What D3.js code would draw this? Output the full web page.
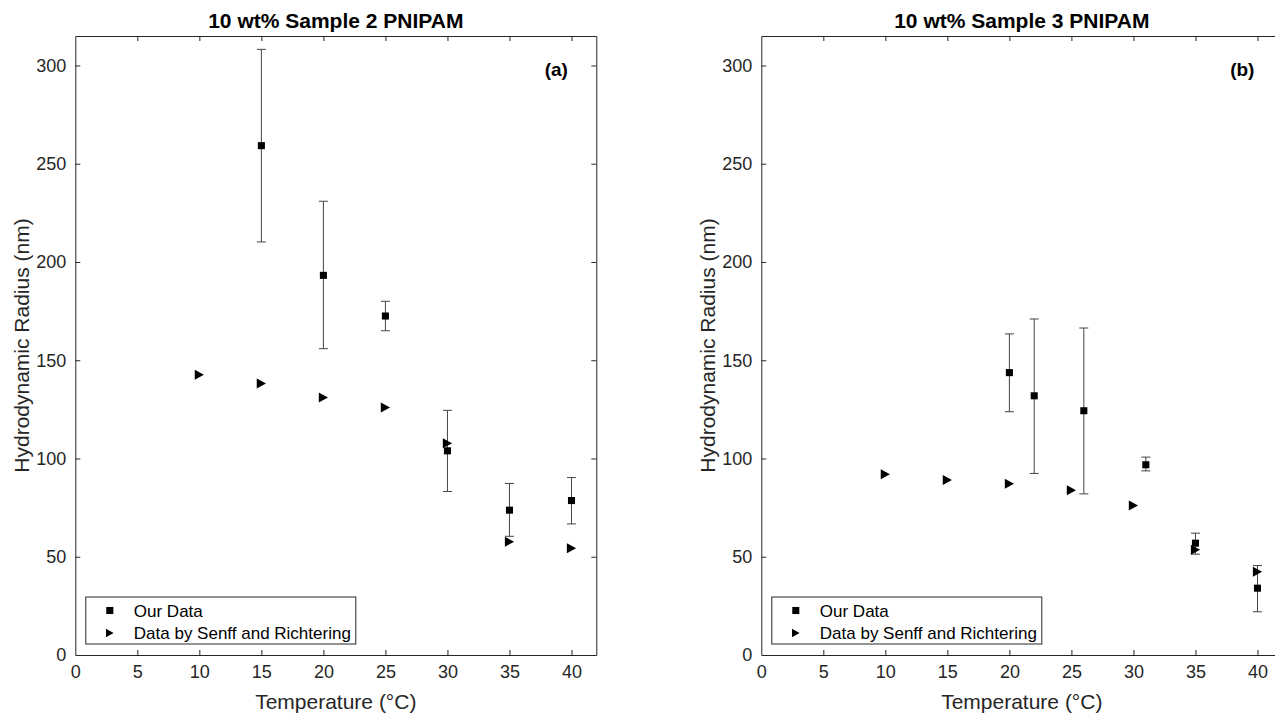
<!DOCTYPE html>
<html>
<head>
<meta charset="utf-8">
<script src="https://cdn.jsdelivr.net/npm/d3@7"></script>
<style>
  html, body { margin: 0; padding: 0; background: #fff; }
  svg { display: block; font-family: "Liberation Sans", Arial, Helvetica, sans-serif; }
</style>
</head>
<body>
<div id="wrapper"></div>
<script>
// DATA

const tempTicks = [0, 5, 10, 15, 20, 25, 30, 35, 40];
const radiusTicks = [0, 50, 100, 150, 200, 250, 300];
const legendLabels = ["Our Data", "Data by Senff and Richtering"];

// reference data, same temperatures in both panels
const senffTemp = [10, 15, 20, 25, 30, 35, 40];
const senffRadiusA = [142.6, 138.2, 131.1, 126, 107.8, 57.6, 54.3];
const senffRadiusB = [92, 89, 87.1, 83.9, 76.1, 53.5, 42.4];

// panel (a) - sample 2
const ourTempA = [15, 20, 25, 30, 35, 40];
const ourRadiusA = [259.2, 193.2, 172.5, 103.9, 73.7, 78.6];
const ourLowA = [210.2, 155.9, 165, 83.2, 60.4, 66.7];
const ourHighA = [308.2, 230.9, 180, 124.5, 87.3, 90.3];

// panel (b) - sample 3
const ourTempB = [20, 22, 26, 31, 35, 40];
const ourRadiusB = [143.7, 131.9, 124.3, 96.8, 56.9, 34];
const ourLowB = [123.8, 92.4, 82, 93.7, 51.3, 22];
const ourHighB = [163.4, 171, 166.4, 100.7, 62, 45.5];

// DIMENSIONS

const dimensions = {
  width: 1275,
  height: 713,
  top: 36,
  bottom: 655,
  plotWidth: 521,
};

const axisColor = "#262626";

const svg = d3
  .select("#wrapper")
  .append("svg")
  .attr("width", dimensions.width)
  .attr("height", dimensions.height);

// right-pointing triangle, centred on its bounding box (like matlab '>')
const trianglePath = "M-4.6,-5L4.6,0L-4.6,5Z";
const squareSymbol = d3.symbol().type(d3.symbolSquare).size(50);

function drawPanel(panel) {
  const left = panel.left;
  const right = left + dimensions.plotWidth;

  const xScale = d3.scaleLinear().domain([0, 42]).range([left, right]);
  const yScale = d3
    .scaleLinear()
    .domain([0, 315])
    .range([dimensions.bottom, dimensions.top]);

  const g = svg.append("g");

  // axes: bottom/left with labels, top/right mirrored ticks (box on)
  const xAxis = g
    .append("g")
    .attr("transform", `translate(0,${dimensions.bottom})`)
    .call(
      d3.axisBottom(xScale).tickValues(tempTicks).tickSizeInner(-5).tickSizeOuter(0).tickPadding(10)
    );
  const xTop = g
    .append("g")
    .attr("transform", `translate(0,${dimensions.top})`)
    .call(
      d3.axisTop(xScale).tickValues(tempTicks).tickSizeInner(-5).tickSizeOuter(0).tickFormat("")
    );
  const yAxis = g
    .append("g")
    .attr("transform", `translate(${left},0)`)
    .call(
      d3.axisLeft(yScale).tickValues(radiusTicks).tickSizeInner(-5).tickSizeOuter(0).tickPadding(9)
    );
  const yRight = g
    .append("g")
    .attr("transform", `translate(${right},0)`)
    .call(
      d3.axisRight(yScale).tickValues(radiusTicks).tickSizeInner(-5).tickSizeOuter(0).tickFormat("")
    );

  [xAxis, xTop, yAxis, yRight].forEach((a) => {
    a.selectAll("path,line").attr("stroke", axisColor).attr("stroke-width", 1);
    a.selectAll("text")
      .attr("fill", axisColor)
      .style("font-size", "18px")
      .style("font-family", "Liberation Sans, Arial, sans-serif");
  });
  xAxis.selectAll("text").attr("dy", "0.71em");
  // drop the inner ticks at the corners like matlab
  [xAxis, xTop, yAxis, yRight].forEach((a) =>
    a.selectAll(".tick line").filter((d) => d === 0).remove()
  );

  // titles
  g.append("text")
    .attr("x", (left + right) / 2)
    .attr("y", 28)
    .attr("text-anchor", "middle")
    .attr("font-weight", "bold")
    .attr("font-size", 21)
    .attr("fill", "#000")
    .text(panel.title);

  g.append("text")
    .attr("x", right - 40)
    .attr("y", 76)
    .attr("text-anchor", "middle")
    .attr("font-weight", "bold")
    .attr("font-size", 19)
    .attr("fill", "#000")
    .text(panel.tag);

  g.append("text")
    .attr("x", (left + right) / 2)
    .attr("y", 709)
    .attr("text-anchor", "middle")
    .attr("font-size", 21)
    .attr("fill", axisColor)
    .text("Temperature (°C)");

  g.append("text")
    .attr("transform", `translate(${left - 46},${(dimensions.top + dimensions.bottom) / 2}) rotate(-90)`)
    .attr("text-anchor", "middle")
    .attr("font-size", 21)
    .attr("fill", axisColor)
    .text("Hydrodynamic Radius (nm)");

  // error bars for our data
  const errors = g
    .append("g")
    .selectAll("g")
    .data(panel.ourTemp.map((t, i) => ({ t, lo: panel.ourLow[i], hi: panel.ourHigh[i] })))
    .join("g")
    .attr("stroke", "#444")
    .attr("stroke-width", 1);

  errors
    .append("line")
    .attr("x1", (d) => xScale(d.t))
    .attr("x2", (d) => xScale(d.t))
    .attr("y1", (d) => yScale(d.lo))
    .attr("y2", (d) => yScale(d.hi));
  errors
    .append("line")
    .attr("x1", (d) => xScale(d.t) - 4.5)
    .attr("x2", (d) => xScale(d.t) + 4.5)
    .attr("y1", (d) => yScale(d.lo))
    .attr("y2", (d) => yScale(d.lo));
  errors
    .append("line")
    .attr("x1", (d) => xScale(d.t) - 4.5)
    .attr("x2", (d) => xScale(d.t) + 4.5)
    .attr("y1", (d) => yScale(d.hi))
    .attr("y2", (d) => yScale(d.hi));

  // squares
  g.append("g")
    .selectAll("path")
    .data(panel.ourTemp.map((t, i) => ({ t, r: panel.ourRadius[i] })))
    .join("path")
    .attr("d", squareSymbol)
    .attr("transform", (d) => `translate(${xScale(d.t)},${yScale(d.r)})`)
    .attr("fill", "#000");

  // triangles (Senff & Richtering)
  g.append("g")
    .selectAll("path")
    .data(senffTemp.map((t, i) => ({ t, r: panel.senffRadius[i] })))
    .join("path")
    .attr("d", trianglePath)
    .attr("transform", (d) => `translate(${xScale(d.t)},${yScale(d.r)})`)
    .attr("fill", "#000");

  // legend
  const legend = g.append("g").attr("transform", `translate(${left + 10.5},597)`);
  legend
    .append("rect")
    .attr("width", 270)
    .attr("height", 47)
    .attr("fill", "#fff")
    .attr("stroke", axisColor)
    .attr("stroke-width", 1);
  legend
    .append("path")
    .attr("d", squareSymbol)
    .attr("transform", "translate(24,13.5)")
    .attr("fill", "#000");
  legend
    .append("path")
    .attr("d", "M-3.8,-4.2L3.8,0L-3.8,4.2Z")
    .attr("transform", "translate(24,36)")
    .attr("fill", "#000");
  legend
    .selectAll("text")
    .data(legendLabels)
    .join("text")
    .attr("x", 48)
    .attr("y", (d, i) => 13.5 + i * 22.5)
    .attr("dy", "0.36em")
    .attr("font-size", 17)
    .attr("fill", "#000")
    .text((d) => d);
}

drawPanel({
  left: 75.3,
  title: "10 wt% Sample 2 PNIPAM",
  tag: "(a)",
  ourTemp: ourTempA,
  ourRadius: ourRadiusA,
  ourLow: ourLowA,
  ourHigh: ourHighA,
  senffRadius: senffRadiusA,
});

drawPanel({
  left: 761.3,
  title: "10 wt% Sample 3 PNIPAM",
  tag: "(b)",
  ourTemp: ourTempB,
  ourRadius: ourRadiusB,
  ourLow: ourLowB,
  ourHigh: ourHighB,
  senffRadius: senffRadiusB,
});
</script>
</body>
</html>
